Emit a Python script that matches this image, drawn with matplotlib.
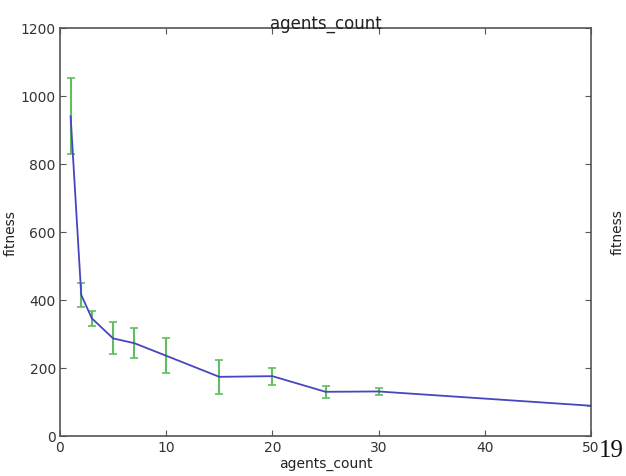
import numpy as np
import matplotlib.pyplot as plt

# values
agents = [1, 2, 3, 5, 7, 10, 15, 20, 25, 30, 50]
fitness = [940, 415, 346, 287, 273, 236, 174, 176, 130, 131, 89]
fitness_err = [112, 35, 22, 47, 44, 51, 50, 25, 18, 9, 0]

W, H = 626, 477
fig = plt.figure(figsize=(W / 100, H / 100), dpi=100)
ax = fig.add_axes([60 / W, 40 / H, 531 / W, 408 / H])

ax.plot(agents, fitness, color="#4646c0", linewidth=1.3, zorder=3)
ax.errorbar(agents, fitness, yerr=fitness_err, fmt="none", ecolor="#5fbf5f",
            elinewidth=1.5, capsize=3, capthick=1.2, zorder=2)

ax.set_xlim(0, 50)
ax.set_ylim(0, 1200)
ax.set_xticks(range(0, 51, 10))
ax.set_yticks(range(0, 1201, 200))

for s in ax.spines.values():
    s.set_color("#555555")
    s.set_linewidth(1.2)
ax.tick_params(direction="in", top=True, right=True, length=4, width=0.8,
               color="#555555", labelsize=10, labelcolor="#333333", pad=3)

ax.set_title("agents_count", fontsize=12, color="#222222", pad=0)
ax.set_xlabel("agents_count", fontsize=10, color="#222222", labelpad=1)
ax.set_ylabel("fitness", fontsize=10, color="#222222")
ax.yaxis.set_label_coords(-42 / 531, 0.5)

# neighbouring figure label and page number from the scan
fig.text(618 / W, 1 - 232 / H, "fitness", rotation=90, fontsize=10,
         color="#222222", ha="center", va="center")
fig.text(599 / W, 1 - 451 / H, "19", family="Liberation Serif", fontsize=18,
         color="#111111", ha="left", va="center")

fig.savefig("out.png", dpi=100)
